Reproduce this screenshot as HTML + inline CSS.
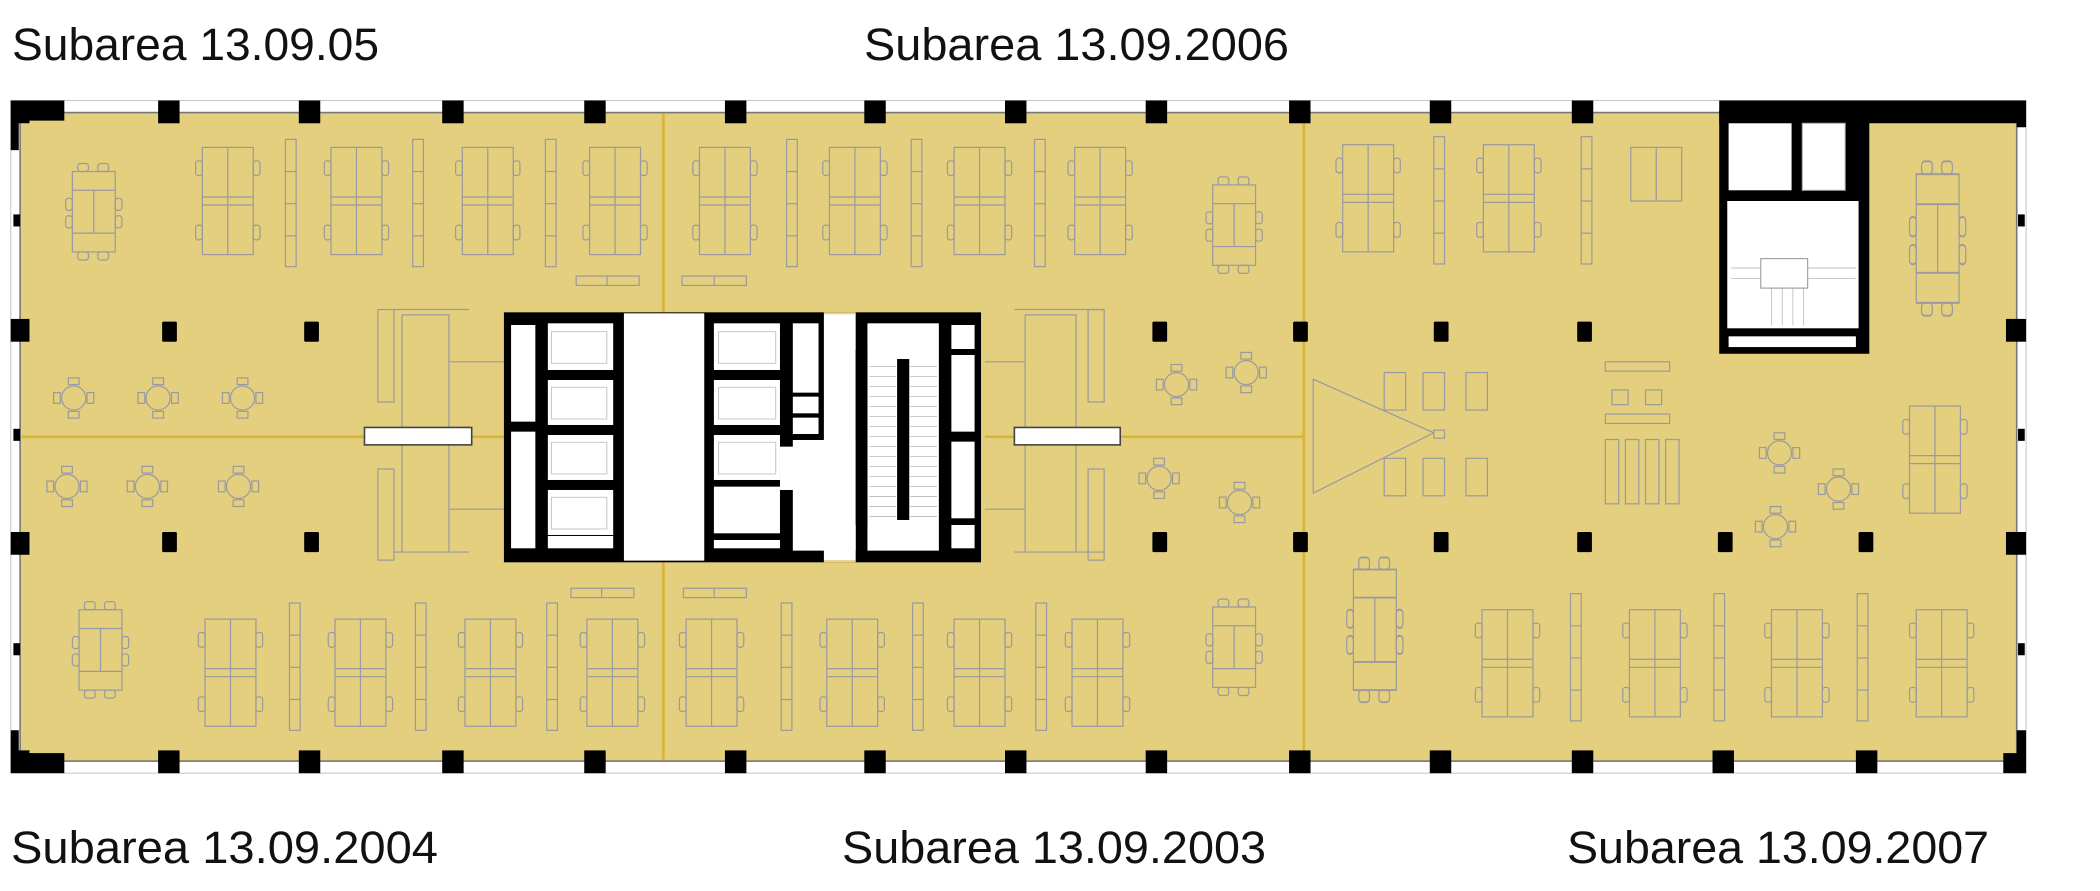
<!DOCTYPE html>
<html><head><meta charset="utf-8"><style>
html,body{margin:0;padding:0;background:#fff;}
svg{display:block;}
text{font-family:"Liberation Sans",sans-serif;fill:#111;}
</style></head><body>
<svg width="2100" height="891" viewBox="0 0 2100 891" xmlns="http://www.w3.org/2000/svg">
<defs>
 <g id="desk" fill="none" stroke="#9a9aa0" stroke-width="0.9">
  <rect x="0" y="0" width="38" height="80"/>
  <line x1="19" y1="0" x2="19" y2="80"/>
  <line x1="0" y1="37" x2="38" y2="37"/><line x1="0" y1="43" x2="38" y2="43"/>
  <rect x="-5" y="10" width="5" height="11" rx="2"/><rect x="38" y="10" width="5" height="11" rx="2"/>
  <rect x="-5" y="58" width="5" height="11" rx="2"/><rect x="38" y="58" width="5" height="11" rx="2"/>
 </g>
 <g id="part" fill="none" stroke="#9a9aa0" stroke-width="0.9">
  <rect x="0" y="0" width="8" height="95"/>
  <line x1="0" y1="24" x2="8" y2="24"/><line x1="0" y1="48" x2="8" y2="48"/><line x1="0" y1="72" x2="8" y2="72"/>
 </g>
 <g id="meet" fill="none" stroke="#9a9aa0" stroke-width="0.9">
  <rect x="0" y="0" width="32" height="60"/>
  <line x1="16" y1="14" x2="16" y2="46"/><line x1="0" y1="14" x2="32" y2="14"/><line x1="0" y1="46" x2="32" y2="46"/>
  <rect x="4" y="-6" width="8" height="6" rx="2"/><rect x="19" y="-6" width="8" height="6" rx="2"/>
  <rect x="4" y="60" width="8" height="6" rx="2"/><rect x="19" y="60" width="8" height="6" rx="2"/>
  <rect x="-5" y="20" width="5" height="9" rx="2"/><rect x="-5" y="33" width="5" height="9" rx="2"/>
  <rect x="32" y="20" width="5" height="9" rx="2"/><rect x="32" y="33" width="5" height="9" rx="2"/>
 </g>
 <g id="round" fill="none" stroke="#9a9aa0" stroke-width="0.9">
  <circle cx="0" cy="0" r="9"/>
  <rect x="-4" y="-15" width="8" height="5"/><rect x="-4" y="10" width="8" height="5"/>
  <rect x="-15" y="-4" width="5" height="8"/><rect x="10" y="-4" width="5" height="8"/>
 </g>
 <rect id="col" x="-5" y="-7" width="10" height="15" rx="1" fill="#000"/>
</defs>

<text x="12" y="60" font-size="45" textLength="367" lengthAdjust="spacingAndGlyphs">Subarea 13.09.05</text>
<text x="864" y="60" font-size="45" textLength="425" lengthAdjust="spacingAndGlyphs">Subarea 13.09.2006</text>
<text x="11" y="863" font-size="45" textLength="427" lengthAdjust="spacingAndGlyphs">Subarea 13.09.2004</text>
<text x="842" y="863" font-size="45" textLength="424" lengthAdjust="spacingAndGlyphs">Subarea 13.09.2003</text>
<text x="1567" y="863" font-size="45" textLength="422" lengthAdjust="spacingAndGlyphs">Subarea 13.09.2007</text>

<g transform="scale(1.34)">
 <!-- facade -->
 <rect x="8" y="75" width="1504" height="502" fill="none" stroke="#c8c8c8" stroke-width="0.8"/>
 <rect x="15" y="84" width="1490" height="484" fill="#e3cf7e" stroke="#777" stroke-width="1.2"/>
 <!-- subarea dividing lines -->
 <g stroke="#d8b535" stroke-width="2">
  <line x1="495" y1="85" x2="495" y2="234"/><line x1="495" y1="418" x2="495" y2="567"/>
  <line x1="973" y1="85" x2="973" y2="567"/>
  <line x1="16" y1="326" x2="377" y2="326"/><line x1="735" y1="326" x2="973" y2="326"/>
 </g>
 <!-- corners -->
 <path d="M8 75 H48 V90 H22 V92 H14 V112 H8 Z" fill="#000"/>
 <path d="M8 577 H48 V562 H22 V560 H14 V545 H8 Z" fill="#000"/>
 <path d="M1512 577 H1495 V562 H1505 V545 H1512 Z" fill="#000"/>
 <path d="M1283 75 H1512 V95 H1505 V92 H1283 Z" fill="#000"/>
 <!-- perimeter columns -->
 <g fill="#000">
  <rect x="118" y="75" width="16" height="17"/><rect x="223" y="75" width="16" height="17"/><rect x="330" y="75" width="16" height="17"/><rect x="436" y="75" width="16" height="17"/><rect x="541" y="75" width="16" height="17"/><rect x="645" y="75" width="16" height="17"/><rect x="750" y="75" width="16" height="17"/><rect x="855" y="75" width="16" height="17"/><rect x="962" y="75" width="16" height="17"/><rect x="1067" y="75" width="16" height="17"/><rect x="1173" y="75" width="16" height="17"/>
  <rect x="118" y="560" width="16" height="17"/><rect x="223" y="560" width="16" height="17"/><rect x="330" y="560" width="16" height="17"/><rect x="436" y="560" width="16" height="17"/><rect x="541" y="560" width="16" height="17"/><rect x="645" y="560" width="16" height="17"/><rect x="750" y="560" width="16" height="17"/><rect x="855" y="560" width="16" height="17"/><rect x="962" y="560" width="16" height="17"/><rect x="1067" y="560" width="16" height="17"/><rect x="1173" y="560" width="16" height="17"/><rect x="1278" y="560" width="16" height="17"/><rect x="1385" y="560" width="16" height="17"/>
  <rect x="8" y="238" width="14" height="17"/><rect x="8" y="397" width="14" height="17"/><rect x="10" y="160" width="5" height="9"/><rect x="10" y="320" width="5" height="9"/><rect x="10" y="480" width="5" height="9"/>
  <rect x="1497" y="238" width="15" height="17"/><rect x="1497" y="397" width="15" height="17"/><rect x="1506" y="160" width="5" height="9"/><rect x="1506" y="320" width="5" height="9"/><rect x="1506" y="480" width="5" height="9"/>
 </g>
 <!-- interior columns -->
 <g fill="#000">
  <rect x="121" y="240" width="11" height="15" rx="1"/><rect x="227" y="240" width="11" height="15" rx="1"/><rect x="860" y="240" width="11" height="15" rx="1"/><rect x="965" y="240" width="11" height="15" rx="1"/><rect x="1070" y="240" width="11" height="15" rx="1"/><rect x="1177" y="240" width="11" height="15" rx="1"/>
  <rect x="121" y="397" width="11" height="15" rx="1"/><rect x="227" y="397" width="11" height="15" rx="1"/><rect x="860" y="397" width="11" height="15" rx="1"/><rect x="965" y="397" width="11" height="15" rx="1"/><rect x="1070" y="397" width="11" height="15" rx="1"/><rect x="1177" y="397" width="11" height="15" rx="1"/><rect x="1282" y="397" width="11" height="15" rx="1"/><rect x="1387" y="397" width="11" height="15" rx="1"/>
 </g>
 <!-- top desks -->
 <use href="#meet" x="54" y="128"/>
 <use href="#desk" x="151" y="110"/><use href="#desk" x="247" y="110"/><use href="#desk" x="345" y="110"/><use href="#desk" x="440" y="110"/><use href="#desk" x="522" y="110"/><use href="#desk" x="619" y="110"/><use href="#desk" x="712" y="110"/><use href="#desk" x="802" y="110"/>
 <use href="#part" x="213" y="104"/><use href="#part" x="308" y="104"/><use href="#part" x="407" y="104"/><use href="#part" x="587" y="104"/><use href="#part" x="680" y="104"/><use href="#part" x="772" y="104"/>
 <use href="#meet" x="905" y="138"/>
 <use href="#desk" x="1002" y="108"/><use href="#desk" x="1107" y="108"/><use href="#part" x="1070" y="102"/><use href="#part" x="1180" y="102"/>
 <g fill="none" stroke="#9a9aa0" stroke-width="0.9"><rect x="1217" y="110" width="38" height="40"/><line x1="1236" y1="110" x2="1236" y2="150"/></g>
 <use href="#meet" x="1430" y="130" transform="translate(1430 130) scale(1 1.6) translate(-1430 -130)"/>
 <!-- bottom desks -->
 <use href="#meet" x="59" y="455"/>
 <use href="#desk" x="153" y="462"/><use href="#desk" x="250" y="462"/><use href="#desk" x="347" y="462"/><use href="#desk" x="438" y="462"/><use href="#desk" x="512" y="462"/><use href="#desk" x="617" y="462"/><use href="#desk" x="712" y="462"/><use href="#desk" x="800" y="462"/>
 <use href="#part" x="216" y="450"/><use href="#part" x="310" y="450"/><use href="#part" x="408" y="450"/><use href="#part" x="583" y="450"/><use href="#part" x="681" y="450"/><use href="#part" x="773" y="450"/>
 <use href="#meet" x="905" y="453"/>
 <use href="#meet" x="1010" y="425" transform="translate(1010 425) scale(1 1.5) translate(-1010 -425)"/>
 <use href="#desk" x="1106" y="455"/><use href="#desk" x="1216" y="455"/><use href="#desk" x="1322" y="455"/><use href="#desk" x="1430" y="455"/>
 <use href="#part" x="1172" y="443"/><use href="#part" x="1279" y="443"/><use href="#part" x="1386" y="443"/>
 <use href="#desk" x="1425" y="303"/>
 <!-- benches -->
 <g fill="none" stroke="#9a9aa0" stroke-width="0.9">
  <rect x="430" y="206" width="47" height="7"/><line x1="453" y1="206" x2="453" y2="213"/>
  <rect x="509" y="206" width="48" height="7"/><line x1="533" y1="206" x2="533" y2="213"/>
  <rect x="426" y="439" width="47" height="7"/><line x1="449" y1="439" x2="449" y2="446"/>
  <rect x="510" y="439" width="47" height="7"/><line x1="533" y1="439" x2="533" y2="446"/>
  <rect x="1198" y="270" width="48" height="7"/><rect x="1198" y="309" width="48" height="7"/>
  <rect x="1203" y="291" width="12" height="11"/><rect x="1228" y="291" width="12" height="11"/>
  <rect x="1198" y="328" width="10" height="48"/><rect x="1213" y="328" width="10" height="48"/><rect x="1228" y="328" width="10" height="48"/><rect x="1243" y="328" width="10" height="48"/>
  <!-- presentation -->
  <path d="M980 283 L1070 323 L980 368 Z"/><rect x="1070" y="321" width="8" height="6"/>
  <rect x="1033" y="278" width="16" height="28"/><rect x="1062" y="278" width="16" height="28"/><rect x="1094" y="278" width="16" height="28"/>
  <rect x="1033" y="342" width="16" height="28"/><rect x="1062" y="342" width="16" height="28"/><rect x="1094" y="342" width="16" height="28"/>
  <!-- meeting rooms near core -->
  <rect x="282" y="231" width="12" height="69"/><path d="M294 231 H350 M300 235 H335 V412 M300 235 V412 M294 412 H350 M335 270 H377 M335 380 H377"/>
  <rect x="282" y="350" width="12" height="68"/>
  <rect x="812" y="231" width="12" height="69"/><path d="M757 231 H824 M765 235 H803 V412 M765 235 V412 M757 412 H824 M735 270 H765 M735 380 H765"/>
  <rect x="812" y="350" width="12" height="68"/>
 </g>
 <use href="#round" x="55" y="297"/><use href="#round" x="118" y="297"/><use href="#round" x="181" y="297"/>
 <use href="#round" x="50" y="363"/><use href="#round" x="110" y="363"/><use href="#round" x="178" y="363"/>
 <use href="#round" x="878" y="287"/><use href="#round" x="930" y="278"/><use href="#round" x="865" y="357"/><use href="#round" x="925" y="375"/>
 <use href="#round" x="1328" y="338"/><use href="#round" x="1372" y="365"/><use href="#round" x="1325" y="393"/>
 <!-- white bars -->
 <rect x="272" y="319" width="80" height="13" fill="#fff" stroke="#444" stroke-width="1.2"/>
 <rect x="757" y="319" width="79" height="13" fill="#fff" stroke="#444" stroke-width="1.2"/>
 <!-- stair tower -->
 <rect x="1283" y="82" width="112" height="182" fill="#000"/>
 <rect x="1290" y="92" width="47" height="50" fill="#fff"/>
 <rect x="1345" y="92" width="32" height="50" fill="#fff" stroke="#aaa" stroke-width="0.8"/>
 <rect x="1289" y="150" width="98" height="95" fill="#fff"/>
 <rect x="1314" y="193" width="35" height="22" fill="#fff" stroke="#999" stroke-width="0.8"/>
 <g stroke="#aaa" stroke-width="0.5"><line x1="1292" y1="200" x2="1314" y2="200"/><line x1="1292" y1="208" x2="1314" y2="208"/><line x1="1349" y1="200" x2="1385" y2="200"/><line x1="1349" y1="208" x2="1385" y2="208"/><line x1="1322" y1="215" x2="1322" y2="243"/><line x1="1330" y1="215" x2="1330" y2="243"/><line x1="1338" y1="215" x2="1338" y2="243"/><line x1="1346" y1="215" x2="1346" y2="243"/></g>
 <rect x="1290" y="251" width="95" height="8" fill="#fff"/>
</g>

<!-- core (zoom coords) -->
<g transform="translate(480 280) scale(0.3571 0.3333)">
 <rect x="67" y="97" width="1336" height="750" fill="#000"/>
 <rect x="403" y="100" width="225" height="742" fill="#fff"/>
 <rect x="963" y="100" width="89" height="742" fill="#fff"/>
 <rect x="963" y="97" width="89" height="6" fill="#e8d590"/><rect x="963" y="840" width="89" height="7" fill="#e8d590"/>
 <g fill="#fff">
  <rect x="87" y="135" width="68" height="290"/><rect x="87" y="455" width="68" height="350"/>
  <rect x="190" y="130" width="183" height="140"/><rect x="190" y="300" width="183" height="135"/><rect x="190" y="465" width="183" height="135"/><rect x="190" y="630" width="183" height="135"/><rect x="190" y="768" width="183" height="37"/>
  <rect x="655" y="130" width="185" height="140"/><rect x="655" y="300" width="185" height="135"/><rect x="655" y="465" width="185" height="135"/><rect x="655" y="620" width="185" height="140"/><rect x="655" y="780" width="185" height="25"/>
  <rect x="876" y="130" width="72" height="208"/><rect x="876" y="350" width="72" height="50"/><rect x="876" y="413" width="72" height="49"/>
  <rect x="876" y="480" width="176" height="332"/>
  <rect x="840" y="500" width="40" height="130"/>
  <rect x="1085" y="130" width="200" height="682"/>
  <rect x="1320" y="135" width="65" height="72"/><rect x="1320" y="225" width="65" height="230"/><rect x="1320" y="485" width="65" height="230"/><rect x="1320" y="735" width="65" height="70"/>
 </g>
 <g fill="none" stroke="#c8c8c8" stroke-width="3">
  <rect x="200" y="155" width="155" height="95"/><rect x="200" y="322" width="155" height="95"/><rect x="200" y="487" width="155" height="95"/><rect x="200" y="652" width="155" height="95"/>
  <rect x="668" y="155" width="160" height="95"/><rect x="668" y="322" width="160" height="95"/><rect x="668" y="487" width="160" height="95"/>
 </g>
 <rect x="1052" y="210" width="33" height="525" fill="#000"/>
 <rect x="1168" y="237" width="34" height="483" fill="#000"/>
 <g stroke="#aaa" stroke-width="2">
  <line x1="1090" y1="260" x2="1165" y2="260"/><line x1="1090" y1="290" x2="1165" y2="290"/><line x1="1090" y1="320" x2="1165" y2="320"/><line x1="1090" y1="350" x2="1165" y2="350"/><line x1="1090" y1="380" x2="1165" y2="380"/><line x1="1090" y1="410" x2="1165" y2="410"/><line x1="1090" y1="440" x2="1165" y2="440"/><line x1="1090" y1="470" x2="1165" y2="470"/><line x1="1090" y1="500" x2="1165" y2="500"/><line x1="1090" y1="530" x2="1165" y2="530"/><line x1="1090" y1="560" x2="1165" y2="560"/><line x1="1090" y1="590" x2="1165" y2="590"/><line x1="1090" y1="620" x2="1165" y2="620"/><line x1="1090" y1="650" x2="1165" y2="650"/><line x1="1090" y1="680" x2="1165" y2="680"/><line x1="1090" y1="710" x2="1165" y2="710"/>
  <line x1="1205" y1="260" x2="1280" y2="260"/><line x1="1205" y1="290" x2="1280" y2="290"/><line x1="1205" y1="320" x2="1280" y2="320"/><line x1="1205" y1="350" x2="1280" y2="350"/><line x1="1205" y1="380" x2="1280" y2="380"/><line x1="1205" y1="410" x2="1280" y2="410"/><line x1="1205" y1="440" x2="1280" y2="440"/><line x1="1205" y1="470" x2="1280" y2="470"/><line x1="1205" y1="500" x2="1280" y2="500"/><line x1="1205" y1="530" x2="1280" y2="530"/><line x1="1205" y1="560" x2="1280" y2="560"/><line x1="1205" y1="590" x2="1280" y2="590"/><line x1="1205" y1="620" x2="1280" y2="620"/><line x1="1205" y1="650" x2="1280" y2="650"/><line x1="1205" y1="680" x2="1280" y2="680"/><line x1="1205" y1="710" x2="1280" y2="710"/>
 </g>
</g>
</svg>
</body></html>
